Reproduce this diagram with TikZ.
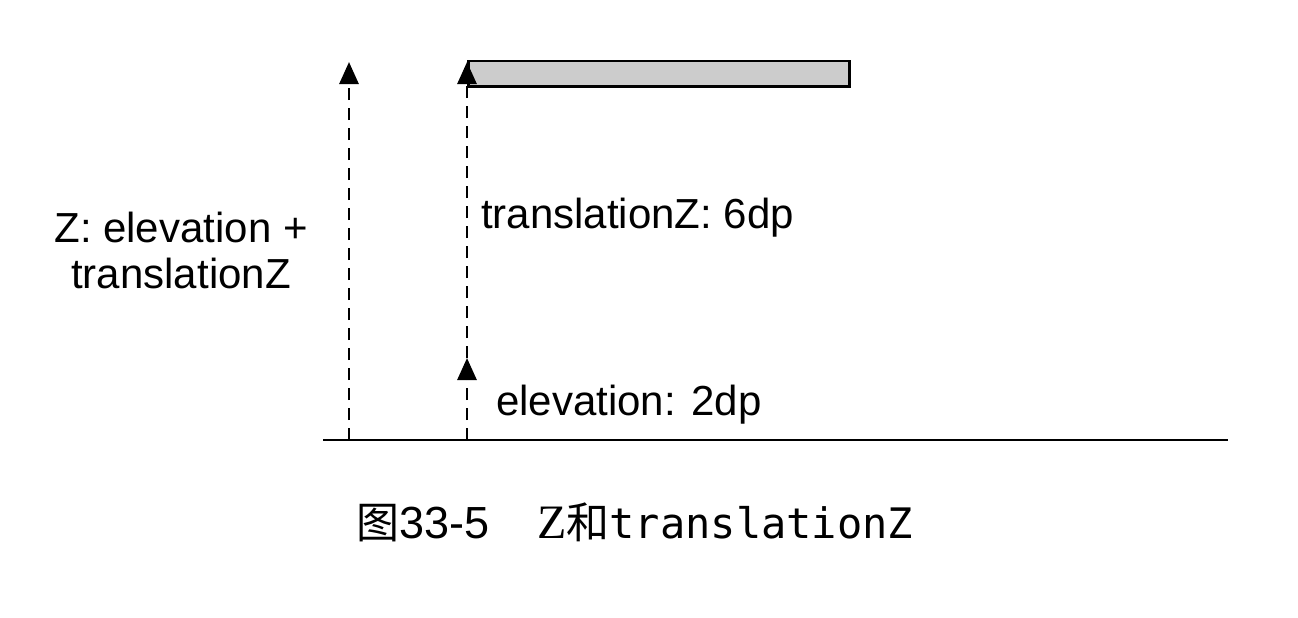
\documentclass[tikz,border=0pt]{standalone}
\usepackage{fontspec}
\setmainfont{Liberation Sans}
\newfontfamily\cjk{Noto Sans CJK SC}
\newfontfamily\capserif{Liberation Serif}
\newfontfamily\capmono{DejaVu Sans Mono}
\usetikzlibrary{arrows.meta}
\tikzset{
  dline/.style={line width=2.8pt, dash pattern=on 12pt off 8pt, -{Triangle[width=19pt,length=22pt]}},
  ground/.style={line width=2.5pt},
  bar/.style={draw, line width=2.5pt, fill=black!20, minimum width=381pt, minimum height=25pt, inner sep=0pt, anchor=north west},
  lbl/.style={font=\fontsize{42}{46}\selectfont, inner sep=0pt},
}
\begin{document}
\begin{tikzpicture}[x=1pt,y=-1pt]
\useasboundingbox (0,0) rectangle (1298,618);
\coordinate (g0) at (323,440);
\coordinate (g1) at (1228,440);
\draw[ground] (g0) -- (g1);
\node[bar] (bar) at (467,60) {};
\coordinate (la) at (349,440);
\coordinate (lt) at (349,62);
\coordinate (ma) at (467,440);
\coordinate (mm) at (467,358);
\coordinate (mt) at (467,62);
\draw[dline] (la) -- (lt);
\draw[dline] (ma) -- (mm);
\draw[dline] (mm) -- (mt);
\node[lbl, anchor=west] (t6) at (481,218) {translationZ: 6dp};
\node[lbl, anchor=west] (t2) at (496,405) {elevation: 2dp};
\node[lbl, align=center] (tz) at (181,250) {Z: elevation +\\translationZ};
\node[anchor=west, inner sep=0pt, font=\fontsize{43}{48}\selectfont] (cap) at (356,522)
  {{\cjk 图}{\fontsize{45}{48}\selectfont 33-5}\hspace{48pt}{\capserif\fontsize{48}{48}\selectfont Z}{\cjk 和}{\capmono\fontsize{42}{48}\selectfont translationZ}};
\end{tikzpicture}
\end{document}
